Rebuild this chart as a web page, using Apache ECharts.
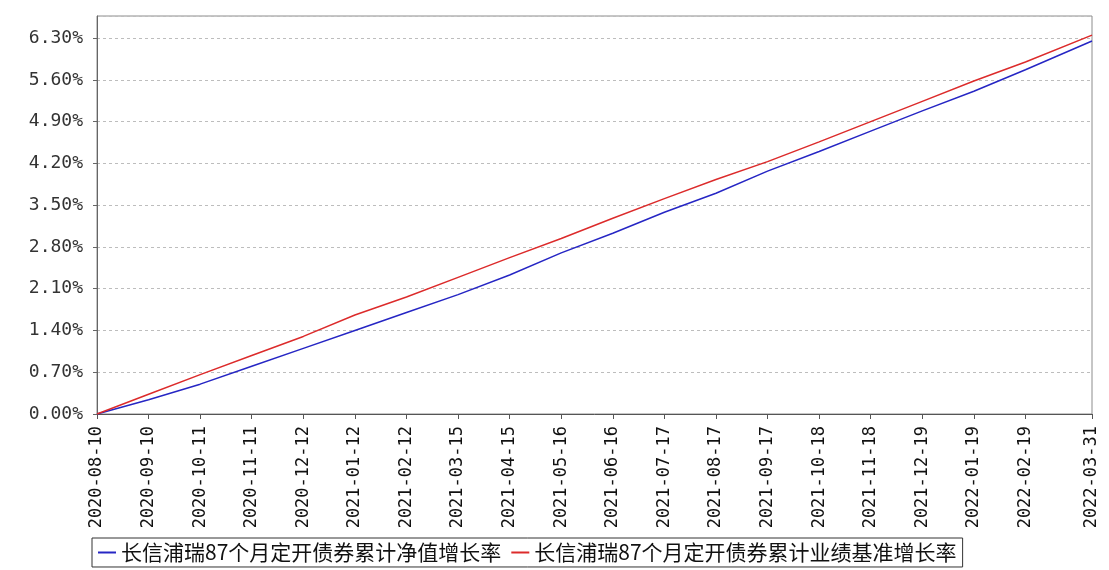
<!DOCTYPE html>
<html>
<head>
<meta charset="utf-8">
<script src="https://cdn.jsdelivr.net/npm/echarts@6/dist/echarts.min.js"></script>
<style>
  html, body { margin: 0; padding: 0; background: #ffffff; }
  #chart { width: 1109px; height: 570px; }
</style>
</head>
<body>
<div id="chart"></div>
<script>
// Tick / sample dates (x-axis labels)
const dates = [
  '2020-08-10','2020-09-10','2020-10-11','2020-11-11','2020-12-12',
  '2021-01-12','2021-02-12','2021-03-15','2021-04-15','2021-05-16',
  '2021-06-16','2021-07-17','2021-08-17','2021-09-17','2021-10-18',
  '2021-11-18','2021-12-19','2022-01-19','2022-02-19','2022-03-31'
];
// 累计净值增长率 (%)
const navGrowth = [
  0.00, 0.24, 0.50, 0.80, 1.10, 1.40, 1.70, 2.00, 2.33, 2.70,
  3.03, 3.38, 3.70, 4.07, 4.40, 4.74, 5.08, 5.41, 5.77, 6.25
];
// 累计业绩基准增长率 (%)
const benchGrowth = [
  0.00, 0.33, 0.66, 0.98, 1.30, 1.66, 1.96, 2.29, 2.62, 2.94,
  3.28, 3.61, 3.93, 4.23, 4.56, 4.90, 5.24, 5.58, 5.90, 6.35
];
const seriesNames = [
  '长信浦瑞87个月定开债券累计净值增长率',
  '长信浦瑞87个月定开债券累计业绩基准增长率'
];

const DAY = 86400000;
function ts(s) {
  const p = s.split('-').map(Number);
  return Date.UTC(p[0], p[1] - 1, p[2]);
}
const t0 = ts(dates[0]);
// x position of each date = days elapsed since the first date
const dayOffsets = dates.map(d => Math.round((ts(d) - t0) / DAY));
function labelFor(v) {
  const i = dayOffsets.indexOf(Math.round(v));
  return i >= 0 ? dates[i] : '';
}

const chart = echarts.init(document.getElementById('chart'), null, { renderer: 'canvas' });
chart.setOption({
  backgroundColor: '#ffffff',
  animation: false,
  grid: {
    left: 97, right: 17, top: 16, bottom: 156,
    show: true, borderColor: '#8c8c8c', borderWidth: 1, backgroundColor: 'transparent'
  },
  legend: {
    left: 92, top: 538,
    data: seriesNames,
    icon: 'rect', itemWidth: 18, itemHeight: 2, itemGap: 10,
    borderColor: '#333', borderWidth: 1, padding: [4, 6],
    textStyle: { fontFamily: 'Noto Sans CJK SC', fontSize: 21, color: '#111' }
  },
  xAxis: {
    type: 'value',
    min: dayOffsets[0], max: dayOffsets[dayOffsets.length - 1],
    offset: 5,
    axisLine: { show: true, lineStyle: { color: '#555', width: 1 } },
    axisTick: { show: true, length: 5, lineStyle: { color: '#555' }, customValues: dayOffsets },
    splitLine: { show: false },
    axisLabel: {
      customValues: dayOffsets,
      rotate: 90, margin: 7,
      fontFamily: 'DejaVu Sans Mono', fontSize: 17, color: '#111',
      formatter: function (v) { return labelFor(v); }
    }
  },
  yAxis: {
    type: 'value',
    min: 0, max: 6.67, interval: 0.7,
    offset: 5,
    axisLine: { show: true, lineStyle: { color: '#666', width: 1 } },
    axisTick: { show: true, length: 4, lineStyle: { color: '#666' } },
    splitLine: { show: true, lineStyle: { color: '#bdbdbd', type: [3, 3], width: 1 } },
    axisLabel: {
      showMaxLabel: false, margin: 9,
      fontFamily: 'DejaVu Sans Mono', fontSize: 18, color: '#333',
      formatter: function (v) { return v.toFixed(2) + '%'; }
    }
  },
  series: [
    {
      name: seriesNames[0], type: 'line', showSymbol: false,
      color: '#2626c4',
      lineStyle: { width: 1.5, color: '#2626c4' },
      data: dayOffsets.map((x, i) => [x, navGrowth[i]])
    },
    {
      name: seriesNames[1], type: 'line', showSymbol: false,
      color: '#dc2b2b',
      lineStyle: { width: 1.5, color: '#dc2b2b' },
      data: dayOffsets.map((x, i) => [x, benchGrowth[i]])
    }
  ]
});
</script>
</body>
</html>
